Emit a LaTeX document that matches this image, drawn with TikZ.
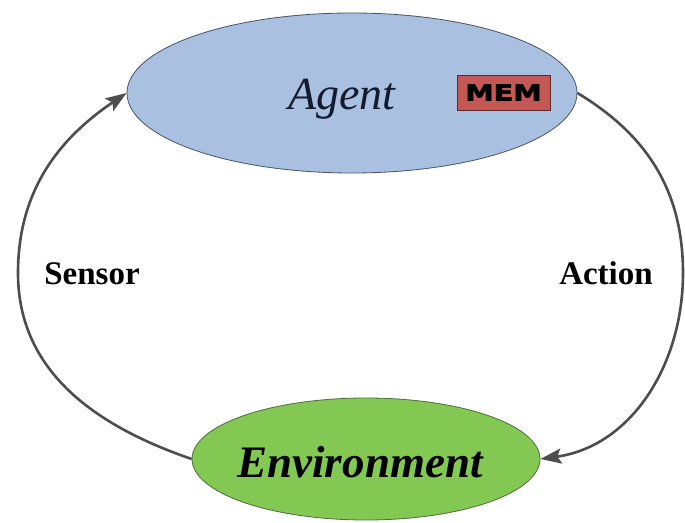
\documentclass[tikz,border=0pt]{standalone}
\usepackage{fontspec}
\setmainfont{Liberation Serif}
\newfontfamily\memfont[FakeBold=2.5]{DejaVu Sans Bold}
\usetikzlibrary{shapes.geometric,arrows.meta}
\definecolor{agentfill}{HTML}{A9C0E0}
\definecolor{agentline}{HTML}{46536B}
\definecolor{envfill}{HTML}{84C854}
\definecolor{envline}{HTML}{4E6B3A}
\definecolor{memfill}{HTML}{C45854}
\definecolor{memline}{HTML}{5A2A2A}
\definecolor{arrowcol}{HTML}{4D4D4D}
\definecolor{agenttextcol}{HTML}{141A2E}
\tikzset{
  agentnode/.style={ellipse, draw=agentline, line width=0.8pt, fill=agentfill, inner sep=0pt, minimum width=450pt, minimum height=160pt},
  envnode/.style={ellipse, draw=envline, line width=0.8pt, fill=envfill, inner sep=0pt, minimum width=348pt, minimum height=122pt},
  membox/.style={rectangle, draw=memline, line width=0.8pt, fill=memfill, inner sep=0pt, minimum width=93pt, minimum height=35pt},
  labeltext/.style={font=\fontsize{33}{36}\selectfont\bfseries, inner sep=0pt, anchor=base},
  flow/.style={draw=arrowcol, line width=2.6pt, -{Stealth[length=21pt,width=15pt,inset=4pt]}}
}
\begin{document}
\begin{tikzpicture}[x=1pt,y=1pt]
\useasboundingbox[fill=white] (0,0) rectangle (685,522);
\node[agentnode] (agent) at (352,429) {};
\node[envnode] (env) at (366,63) {};
\node[membox] (mem) at (503.5,429.5) {\memfont\fontsize{22}{24}\selectfont\scalebox{1.3}[1]{MEM}};
\node[inner sep=0pt, anchor=base, text=agenttextcol] (agenttxt) at (342,412) {\fontsize{46}{50}\selectfont\itshape Agent};
\node[inner sep=0pt, anchor=base] (envtxt) at (360,45) {\fontsize{45}{50}\selectfont\bfseries\itshape Environment};
\node[labeltext] (sensor) at (92,237) {Sensor};
\node[labeltext] (action) at (606,237) {Action};
\coordinate (lmid) at (18,249);
\coordinate (rmid) at (683,249);
\draw[flow] (env.west) to[out=161,in=-90] (lmid) to[out=90,in=214] (agent.west);
\draw[flow] (agent.east) to[out=-31,in=90] (rmid) to[out=-90,in=8] (env.east);
\end{tikzpicture}
\end{document}
